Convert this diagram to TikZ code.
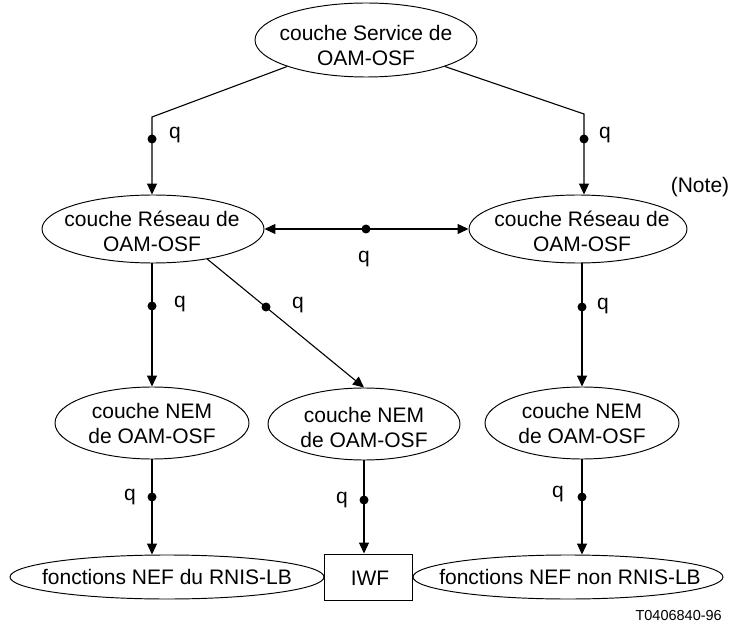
\documentclass[tikz,border=0pt]{standalone}
\usepackage{fontspec}
\setmainfont{Liberation Sans}
\usetikzlibrary{shapes.geometric,arrows.meta}
\tikzset{
  ell/.style={draw, ellipse, inner sep=0pt, line width=0.95pt},
  txt/.style={align=center, inner sep=0pt, font=\fontsize{21}{25}\selectfont},
  lbl/.style={inner sep=0pt, font=\fontsize{21}{25}\selectfont},
  conn/.style={line width=1.1pt, -{Triangle[length=11pt,width=10pt]}},
  dconn/.style={line width=1.1pt, {Triangle[length=11pt,width=10pt]}-{Triangle[length=11pt,width=10pt]}},
  dotc/.style={circle, fill, inner sep=0pt, minimum size=9pt},
}
\begin{document}
\begin{tikzpicture}[x=1pt,y=-1pt]
\useasboundingbox (0,0) rectangle (731,628);
% ellipses
\node[ell, minimum width=222pt, minimum height=74pt] (top) at (366,40) {};
\node[txt] (topt) at (366,45) {couche Service de\\OAM-OSF};
\node[ell, minimum width=222pt, minimum height=68pt] (lr) at (153,229) {};
\node[txt] (lrt) at (152,231) {couche Réseau de\\OAM-OSF};
\node[ell, minimum width=218pt, minimum height=68pt] (rr) at (578,229) {};
\node[txt] (rrt) at (582,231) {couche Réseau de\\OAM-OSF};
\node[ell, minimum width=194pt, minimum height=72pt] (lnem) at (152,423) {};
\node[txt] (lnemt) at (152,423) {couche NEM\\de OAM-OSF};
\node[ell, minimum width=192pt, minimum height=72pt] (mnem) at (364,424) {};
\node[txt] (mnemt) at (364,427) {couche NEM\\de OAM-OSF};
\node[ell, minimum width=194pt, minimum height=72pt] (rnem) at (582,423) {};
\node[txt] (rnemt) at (582,423) {couche NEM\\de OAM-OSF};
\node[ell, minimum width=314pt, minimum height=44pt] (lb) at (167,577) {};
\node[txt] (lbt) at (167,577) {fonctions NEF du RNIS-LB};
\node[draw, line width=0.95pt, minimum width=88pt, minimum height=46pt, inner sep=0pt] (iwf) at (368,577) {};
\node[txt] (iwft) at (370,578) {IWF};
\node[ell, minimum width=310pt, minimum height=44pt] (rb) at (568,577) {};
\node[txt] (rbt) at (570,577) {fonctions NEF non RNIS-LB};
\node[lbl] (note) at (700,187) {(Note)};
\node[inner sep=0pt, font=\fontsize{14.5}{17}\selectfont, anchor=east] (ref) at (722,616) {T0406840-96};
% bend coordinates
\coordinate (bl) at (152,117);
\coordinate (br) at (584,114);
% connectors
\draw[conn] (top.south west) -- (bl) -- (bl |- lr.north);
\draw[conn] (top.south east) -- (br) -- (br |- rr.north);
\draw[dconn] (lr.east) -- (rr.west);
\draw[conn] (lr.south -| lnem.north) -- (lnem.north);
\draw[conn] (lr.-29) -- (mnem.north);
\draw[conn] (rr.south -| rnem.north) -- (rnem.north);
\draw[conn] (lnem.south) -- (lnem.south |- lb.north);
\draw[conn] (mnem.south) -- (mnem.south |- iwf.north);
\draw[conn] (rnem.south) -- (rnem.south |- rb.north);
% dots and q labels
\node[dotc] (d1) at (152,139) {};
\node[lbl] (q1) at (175,135) {q};
\node[dotc] (d2) at (584,139) {};
\node[lbl] (q2) at (605,135) {q};
\node[dotc] (d3) at (366,229) {};
\node[lbl] (q3) at (364,259) {q};
\node[dotc] (d4) at (152,306) {};
\node[lbl] (q4) at (180,304) {q};
\node[dotc] (d5) at (266,307) {};
\node[lbl] (q5) at (298,305) {q};
\node[dotc] (d6) at (582,307) {};
\node[lbl] (q6) at (603,306) {q};
\node[dotc] (d7) at (152,497) {};
\node[lbl] (q7) at (130,497) {q};
\node[dotc] (d8) at (364,500) {};
\node[lbl] (q8) at (342,500) {q};
\node[dotc] (d9) at (582,497) {};
\node[lbl] (q9) at (558,494) {q};
\end{tikzpicture}
\end{document}
